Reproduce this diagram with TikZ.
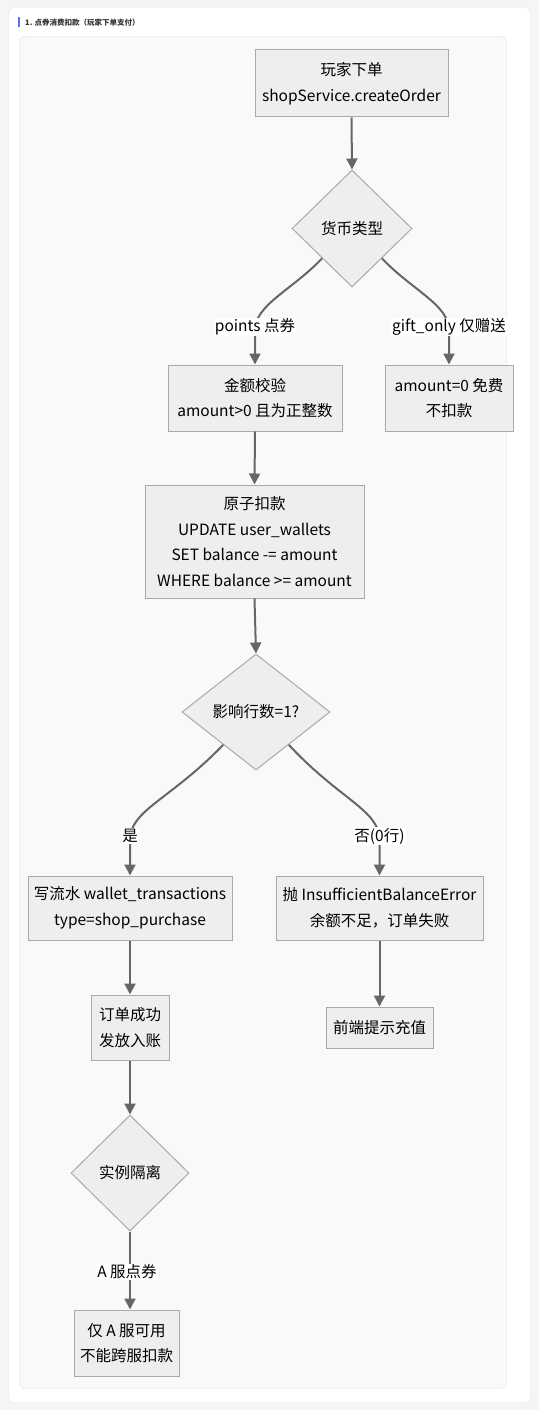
\documentclass[tikz,border=0pt]{standalone}
\usepackage{fontspec}
\setmainfont{Noto Sans CJK SC}
\usetikzlibrary{shapes.geometric,arrows.meta}
\definecolor{pagebg}{HTML}{F4F5F7}
\definecolor{cardline}{HTML}{E3E6EB}
\definecolor{panelbg}{HTML}{F8F9FB}
\definecolor{panelline}{HTML}{DDE1E7}
\definecolor{boxfill}{HTML}{EEEEEE}
\definecolor{boxline}{HTML}{A9A9A9}
\definecolor{edgecol}{HTML}{666666}
\definecolor{accent}{HTML}{5F6FE8}
\definecolor{titlecol}{HTML}{333333}
\tikzset{
  box/.style={draw=boxline, fill=boxfill, line width=1pt, inner sep=0pt, align=center,
    font=\fontsize{15.5}{25.5}\selectfont, text=black},
  dia/.style={diamond, draw=boxline, fill=boxfill, line width=1pt, inner sep=0pt, align=center,
    font=\fontsize{15.5}{25.5}\selectfont, text=black},
  edge/.style={draw=edgecol, line width=2pt, -{Triangle[length=11pt,width=11pt]}},
  elabel/.style={fill=white, inner sep=1pt, font=\fontsize{15.5}{18}\selectfont, text=black}
}
\begin{document}
\begin{tikzpicture}[x=1pt,y=-1pt]
\useasboundingbox (0,0) rectangle (539,1410);
\fill[pagebg] (0,0) rectangle (539,1410);
\draw[cardline, fill=white, rounded corners=6pt] (8.5,7.5) rectangle (530.5,1402.5);
\fill[accent] (18,17) rectangle (20,27);
\node[anchor=west, inner sep=0pt, font=\fontsize{7.5}{9}\selectfont\bfseries, text=titlecol] (title) at (25,22.5) {1. 点券消费扣款（玩家下单支付）};
\draw[panelline, fill=panelbg, rounded corners=5pt] (19.5,36.5) rectangle (506.5,1388.5);

% nodes
\node[box, minimum width=193pt, minimum height=67pt] (order) at (351.5,83.5) {玩家下单\\shopService.createOrder};
\node[dia, minimum width=120pt, minimum height=117pt] (cur) at (352,228.5) {货币类型};
\node[box, minimum width=174pt, minimum height=66pt] (check) at (255,398) {金额校验\\amount>0 且为正整数};
\node[box, minimum width=128pt, minimum height=66pt] (free) at (449,398) {amount=0 免费\\不扣款};
\node[box, minimum width=219pt, minimum height=113pt] (deduct) at (254.5,541.5) {原子扣款\\UPDATE user\_wallets\\SET balance -= amount\\WHERE balance >= amount};
\node[dia, minimum width=148pt, minimum height=116pt] (rows) at (256,712) {影响行数=1?};
\node[box, minimum width=204pt, minimum height=64pt] (log) at (130,908) {写流水 wallet\_transactions\\type=shop\_purchase};
\node[box, minimum width=207pt, minimum height=64pt] (err) at (379.5,908) {抛 InsufficientBalanceError\\余额不足，订单失败};
\node[box, minimum width=78pt, minimum height=65pt] (ok) at (130,1027.5) {订单成功\\发放入账};
\node[box, minimum width=107pt, minimum height=41pt] (recharge) at (379.5,1027.5) {前端提示充值};
\node[dia, minimum width=118pt, minimum height=116pt] (iso) at (130,1173) {实例隔离};
\node[box, minimum width=105pt, minimum height=66pt] (only) at (126.5,1343) {仅 A 服可用\\不能跨服扣款};

% edges
\draw[edge] (order.south) -- (cur.north);
\draw[edge] (cur.225) .. controls (292,290) and (255,305) .. (255,330) -- (check.north);
\node[elabel] (lp) at (255,327) {points 点券};
\draw[edge] (cur.315) .. controls (412,290) and (449,305) .. (449,330) -- (free.north);
\node[elabel] (lg) at (449,327) {gift\_only 仅赠送};
\draw[edge] (check.south) -- (deduct.north);
\draw[edge] (deduct.south) -- (rows.north);
\draw[edge] (rows.225) .. controls (170,800) and (130,810) .. (130,840) -- (log.north);
\node[elabel] (ly) at (130,836) {是};
\draw[edge] (rows.315) .. controls (340,800) and (379.5,810) .. (379.5,840) -- (err.north);
\node[elabel] (ln) at (379.5,836) {否(0行)};
\draw[edge] (log.south) -- (ok.north);
\draw[edge] (err.south) -- (recharge.north);
\draw[edge] (ok.south) -- (iso.north);
\draw[edge] (iso.south) -- (iso.south |- only.north);
\node[elabel] (la) at (127,1272) {A 服点券};
\end{tikzpicture}
\end{document}
